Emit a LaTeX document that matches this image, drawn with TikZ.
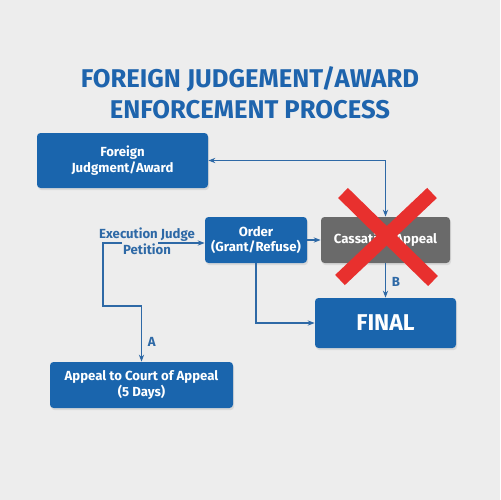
\documentclass[tikz,border=0pt]{standalone}
\usepackage{fontspec}
\setmainfont{Fira Sans}
\usetikzlibrary{arrows.meta,shadows}
\definecolor{bg}{HTML}{EDEDED}
\definecolor{boxblue}{HTML}{1A65AD}
\definecolor{lineblue}{HTML}{2E69A6}
\definecolor{titleblue}{HTML}{1E64AD}
\definecolor{cassgray}{HTML}{6A6A6A}
\definecolor{xred}{HTML}{E8302E}
\begin{document}
\begin{tikzpicture}[x=0.02cm,y=-0.02cm,
  box/.style={fill=boxblue, rounded corners=2pt, text=white, align=center, inner sep=0pt,
    font=\bfseries\fontsize{7.5}{9}\selectfont,
    drop shadow={opacity=0.18, shadow xshift=0.6pt, shadow yshift=-1.2pt}},
  arr/.style={draw=lineblue, line width=0.6pt, -{Stealth[length=4pt,width=3pt]}},
  dbl/.style={draw=lineblue, line width=0.6pt, {Stealth[length=4pt,width=3pt]}-{Stealth[length=4pt,width=3pt]}},
  lbl/.style={text=lineblue, font=\bfseries\fontsize{7.5}{9}\selectfont}]
\fill[bg] (0,0) rectangle (500,500);
\useasboundingbox (0,0) rectangle (500,500);
\node[text=titleblue, font=\bfseries\fontsize{14.6}{17.5}\selectfont, align=center] (title) at (250,93)
  {FOREIGN JUDGEMENT/AWARD\\ENFORCEMENT PROCESS};
\node[box, minimum width=171*0.02cm, minimum height=55*0.02cm] (fj) at (122.5,160.5) {Foreign\\Judgment/Award};
\node[box, minimum width=102*0.02cm, minimum height=46*0.02cm] (order) at (256,240) {Order\\(Grant/Refuse)};
\node[box, fill=cassgray, minimum width=129*0.02cm, minimum height=46*0.02cm] (cass) at (385.5,240) {Cassation Appeal};
\node[box, minimum width=141*0.02cm, minimum height=50*0.02cm, font=\bfseries\fontsize{13}{15}\selectfont] (final) at (385.5,323) {FINAL};
\node[box, minimum width=183*0.02cm, minimum height=46*0.02cm] (appeal) at (141.5,385) {Appeal to Court of Appeal\\(5 Days)};
\node[lbl, align=center] (pet) at (147,241) {Execution Judge\\Petition};
\coordinate (pj) at (158,243);
\coordinate (pl) at (122,243);
% connectors
\draw[dbl] (fj.east) -| (cass.north);
\draw[arr] (order.east) -- (cass.west);
\draw[arr] (pj) -- (pj -| order.west);
\draw[arr] (order.south) |- (final.west);
\draw[arr] (cass.south) -- node[lbl, right, pos=0.55] (lb) {B} (final.north);
\draw[arr] (pl) -| (103,306) -| node[lbl, right, pos=0.82] (la) {A} (appeal.north);
% red X
\draw[xred, line width=8pt] (343,193) -- (433,281);
\draw[xred, line width=8pt] (432,193) -- (340,280);
\end{tikzpicture}
\end{document}
